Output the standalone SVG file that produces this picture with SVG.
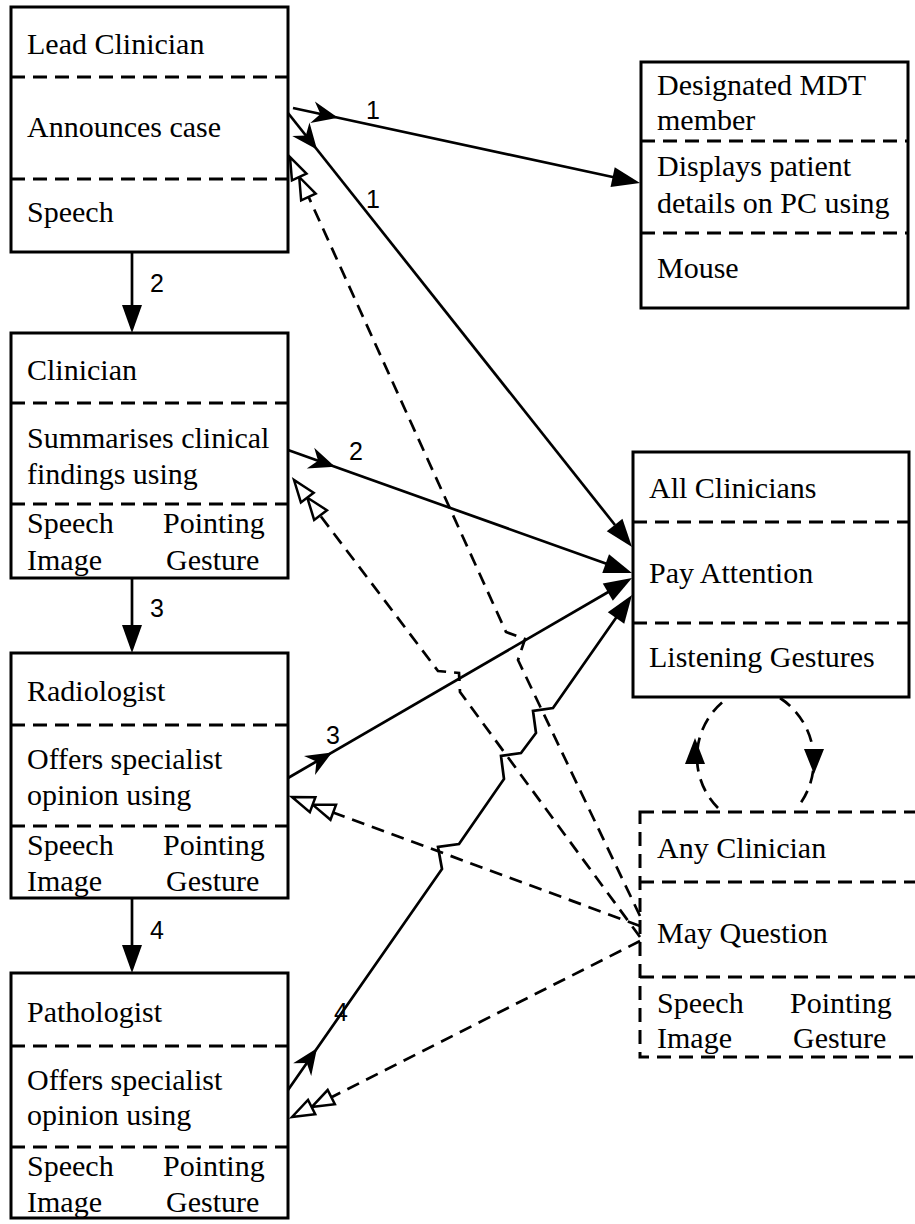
<svg xmlns="http://www.w3.org/2000/svg" xmlns:xlink="http://www.w3.org/1999/xlink" width="915" height="1224" viewBox="0 0 915 1224">
<style>
.box{fill:#fff;stroke:#000;stroke-width:3}
.dbox{fill:#fff;stroke:#000;stroke-width:3;stroke-dasharray:14 8}
.div{stroke:#000;stroke-width:3;stroke-dasharray:14 8;fill:none}
.t{font-family:"Liberation Serif","Times New Roman",serif;font-size:30px;fill:#000}
.n{font-family:"Liberation Sans",Arial,sans-serif;font-size:25px;fill:#000}
.c{stroke:#000;stroke-width:2.7;fill:none}
.dc{stroke:#000;stroke-width:2.7;fill:none;stroke-dasharray:13 8}
.fa{fill:#000;stroke:none}
.ha{fill:#fff;stroke:#000;stroke-width:2.5;stroke-linejoin:miter}
</style>
<defs>
<path id="mid" d="M0,0 L-26,-11 L-18,0 L-26,11 Z"/>
<path id="end" d="M0,0 L-28,-10 L-28,10 Z"/>
<g id="hol"><path d="M-22,0 L-44,-8 L-44,8 Z"/><path d="M0,0 L-22,-8 L-22,8 Z"/></g>
</defs>

<g id="lead-clinician">
<rect class="box" x="11" y="7" width="277" height="245"/>
<line class="div" x1="11" y1="77" x2="288" y2="77"/>
<line class="div" x1="11" y1="179" x2="288" y2="179"/>
<text class="t" x="27" y="54">Lead Clinician</text>
<text class="t" x="27" y="137">Announces case</text>
<text class="t" x="27" y="222">Speech</text>
</g>

<g id="clinician">
<rect class="box" x="11" y="333" width="277" height="245"/>
<line class="div" x1="11" y1="403" x2="288" y2="403"/>
<line class="div" x1="11" y1="504" x2="288" y2="504"/>
<text class="t" x="27" y="380">Clinician</text>
<text class="t" x="27" y="448">Summarises clinical</text>
<text class="t" x="27" y="484">findings using</text>
<text class="t" x="27" y="533">Speech</text>
<text class="t" x="163" y="533">Pointing</text>
<text class="t" x="27" y="570">Image</text>
<text class="t" x="166" y="570">Gesture</text>
</g>

<g id="radiologist">
<rect class="box" x="11" y="653" width="277" height="245"/>
<line class="div" x1="11" y1="725" x2="288" y2="725"/>
<line class="div" x1="11" y1="826" x2="288" y2="826"/>
<text class="t" x="27" y="701">Radiologist</text>
<text class="t" x="27" y="769">Offers specialist</text>
<text class="t" x="27" y="805">opinion using</text>
<text class="t" x="27" y="855">Speech</text>
<text class="t" x="163" y="855">Pointing</text>
<text class="t" x="27" y="891">Image</text>
<text class="t" x="166" y="891">Gesture</text>
</g>

<g id="pathologist">
<rect class="box" x="11" y="973" width="277" height="245"/>
<line class="div" x1="11" y1="1046" x2="288" y2="1046"/>
<line class="div" x1="11" y1="1147" x2="288" y2="1147"/>
<text class="t" x="27" y="1022">Pathologist</text>
<text class="t" x="27" y="1090">Offers specialist</text>
<text class="t" x="27" y="1125">opinion using</text>
<text class="t" x="27" y="1176">Speech</text>
<text class="t" x="163" y="1176">Pointing</text>
<text class="t" x="27" y="1212">Image</text>
<text class="t" x="166" y="1212">Gesture</text>
</g>

<g id="designated-mdt-member">
<rect class="box" x="641" y="62" width="267" height="246"/>
<line class="div" x1="641" y1="141" x2="908" y2="141"/>
<line class="div" x1="641" y1="233" x2="908" y2="233"/>
<text class="t" x="657" y="95">Designated MDT</text>
<text class="t" x="657" y="130">member</text>
<text class="t" x="657" y="176">Displays patient</text>
<text class="t" x="657" y="213">details on PC using</text>
<text class="t" x="657" y="278">Mouse</text>
</g>

<g id="all-clinicians">
<rect class="box" x="633" y="452" width="276" height="245"/>
<line class="div" x1="633" y1="522" x2="909" y2="522"/>
<line class="div" x1="633" y1="623" x2="909" y2="623"/>
<text class="t" x="649" y="498">All Clinicians</text>
<text class="t" x="649" y="583">Pay Attention</text>
<text class="t" x="649" y="667">Listening Gestures</text>
</g>

<g id="any-clinician">
<rect class="dbox" x="640" y="812" width="300" height="245"/>
<line class="div" x1="640" y1="882" x2="915" y2="882"/>
<line class="div" x1="640" y1="977" x2="915" y2="977"/>
<text class="t" x="657" y="858">Any Clinician</text>
<text class="t" x="657" y="943">May Question</text>
<text class="t" x="657" y="1013">Speech</text>
<text class="t" x="790" y="1013">Pointing</text>
<text class="t" x="657" y="1048">Image</text>
<text class="t" x="793" y="1048">Gesture</text>
</g>

<g id="connectors">
<!-- sequence arrows -->
<line class="c" x1="132" y1="252" x2="132" y2="320"/>
<use href="#end" class="fa" transform="translate(132,333) rotate(90)"/>
<text class="n" x="150" y="292">2</text>
<line class="c" x1="132" y1="578" x2="132" y2="640"/>
<use href="#end" class="fa" transform="translate(132,653) rotate(90)"/>
<text class="n" x="150" y="617">3</text>
<line class="c" x1="132" y1="898" x2="132" y2="960"/>
<use href="#end" class="fa" transform="translate(132,973) rotate(90)"/>
<text class="n" x="150" y="939">4</text>

<!-- dashed question lines -->
<path class="dc" d="M640,916 L518,660 L525,639 L506,632 L300,178"/>
<path class="dc" d="M640,937 L460,692 L459,673 L438,671 L310,502"/>
<path class="dc" d="M640,926 L332,812"/>
<path class="dc" d="M640,941 L332,1097"/>
<use href="#hol" class="ha" transform="translate(290,157) rotate(-114.75)"/>
<use href="#hol" class="ha" transform="translate(294,480) rotate(-127.1)"/>
<use href="#hol" class="ha" transform="translate(292,797) rotate(-159.66)"/>
<use href="#hol" class="ha" transform="translate(292,1117) rotate(153.2)"/>

<!-- line 1 to MDT -->
<line class="c" x1="293" y1="108" x2="615" y2="177.5"/>
<use href="#mid" class="fa" transform="translate(338,117.7) rotate(12.16)"/>
<use href="#end" class="fa" transform="translate(640,183) rotate(12.16)"/>
<text class="n" x="373" y="119" text-anchor="middle">1</text>
<!-- line 1 to All -->
<line class="c" x1="288" y1="113" x2="615" y2="525"/>
<use href="#mid" class="fa" transform="translate(317,149.6) rotate(51.6)"/>
<use href="#end" class="fa" transform="translate(632,547) rotate(51.6)"/>
<text class="n" x="373" y="208" text-anchor="middle">1</text>
<!-- line 2 -->
<line class="c" x1="288" y1="450" x2="610" y2="565"/>
<use href="#mid" class="fa" transform="translate(335,466.8) rotate(19.68)"/>
<use href="#end" class="fa" transform="translate(632,573) rotate(19.68)"/>
<text class="n" x="356" y="460" text-anchor="middle">2</text>
<!-- line 3 -->
<line class="c" x1="288" y1="778" x2="610" y2="591"/>
<use href="#mid" class="fa" transform="translate(332,752.4) rotate(-30.17)"/>
<use href="#end" class="fa" transform="translate(632,578) rotate(-30.17)"/>
<text class="n" x="333" y="744" text-anchor="middle">3</text>
<!-- line 4 -->
<path class="c" d="M288,1090 L442,869 L438,847 L459,844 L504,779 L501,756 L521,753 L536,733 L533,711 L553,708 L618,615"/>
<use href="#mid" class="fa" transform="translate(317,1048.3) rotate(-55.2)"/>
<use href="#end" class="fa" transform="translate(632,595) rotate(-55.2)"/>
<text class="n" x="341" y="1021" text-anchor="middle">4</text>

<!-- feedback loop -->
<path class="dc" d="M718,808 A72,72 0 0 1 728,698"/>
<path class="dc" d="M780,698 A75,75 0 0 1 797,808"/>
<path class="fa" d="M695,738 L685,764 L705,764 Z"/>
<path class="fa" d="M814,774 L804,749 L824,749 Z"/>
</g>
</svg>
